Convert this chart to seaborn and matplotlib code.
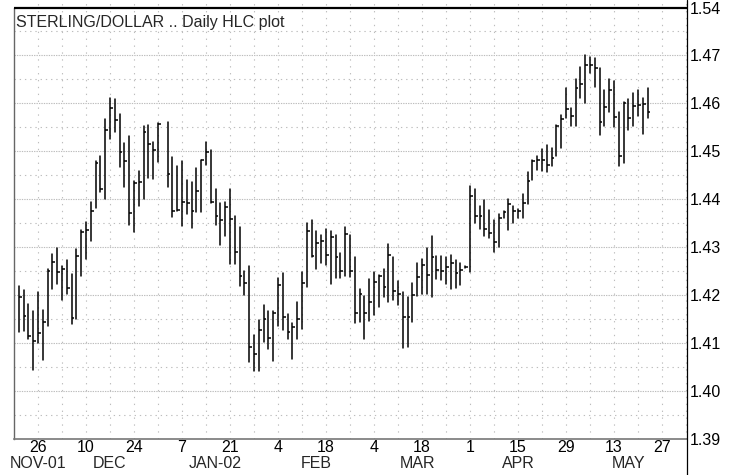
import numpy as np
import pandas as pd
import matplotlib
matplotlib.use('Agg')
import matplotlib.pyplot as plt
import matplotlib.transforms as mtransforms
from matplotlib.lines import Line2D
from matplotlib.ticker import FixedLocator, MultipleLocator
import seaborn as sns

# daily bars, business days 2001-11-20 .. 2002-05-22 (NaN = no quote)
START = '2001-11-20'
END = '2002-05-22'

HIGH = [1.4218, 1.4210, 1.4181, 1.4167, 1.4206, 1.4168, 1.4254, 1.4285, 1.4297, 1.4261,
        1.4272, 1.4243, 1.4296, 1.4335, 1.4353, 1.4393, 1.4479, 1.4490, 1.4567, 1.4610,
        1.4608, 1.4578, 1.4517, 1.4531, 1.4438, 1.4458, 1.4553, 1.4554, 1.4519, 1.4558,
        np.nan, 1.4560, 1.4488, 1.4469, 1.4479, 1.4439, 1.4435, 1.4465, 1.4482, 1.4519,
        1.4503, 1.4421, 1.4392, 1.4393, 1.4421, 1.4364, 1.4342, 1.4251, 1.4261, 1.4116,
        1.4147, 1.4179, 1.4166, 1.4167, 1.4235, 1.4245, 1.4160, 1.4142, 1.4185, 1.4248,
        1.4349, 1.4356, 1.4334, 1.4324, 1.4338, 1.4334, 1.4326, 1.4288, 1.4342, 1.4326,
        1.4279, 1.4213, 1.4198, 1.4233, 1.4248, 1.4242, 1.4255, 1.4306, 1.4279, 1.4229,
        1.4206, 1.4195, 1.4224, 1.4267, 1.4274, 1.4298, 1.4323, 1.4281, 1.4281, 1.4279,
        1.4283, 1.4273, 1.4266, 1.4260, 1.4428, 1.4421, 1.4385, 1.4397, 1.4378, 1.4357,
        1.4369, 1.4375, 1.4401, 1.4386, 1.4379, 1.4410, 1.4457, 1.4482, 1.4490, 1.4504,
        1.4513, 1.4506, 1.4554, 1.4576, 1.4631, 1.4589, 1.4651, 1.4676, 1.4699, 1.4696,
        1.4693, 1.4672, 1.4628, 1.4651, 1.4646, 1.4581, 1.4603, 1.4608, 1.4621, 1.4628,
        1.4610, 1.4631]

LOW = [1.4122, 1.4124, 1.4108, 1.4044, 1.4101, 1.4065, 1.4136, 1.4213, 1.4222, 1.4190,
       1.4203, 1.4140, 1.4150, 1.4240, 1.4275, 1.4313, 1.4381, 1.4414, 1.4399, 1.4525,
       1.4540, 1.4467, 1.4425, 1.4346, 1.4332, 1.4385, 1.4399, 1.4443, 1.4442, 1.4478,
       np.nan, 1.4426, 1.4363, 1.4375, 1.4344, 1.4368, 1.4339, 1.4372, 1.4372, 1.4471,
       1.4392, 1.4346, 1.4304, 1.4322, 1.4265, 1.4265, 1.4219, 1.4201, 1.4061, 1.4042,
       1.4042, 1.4102, 1.4088, 1.4062, 1.4135, 1.4127, 1.4108, 1.4066, 1.4109, 1.4130,
       1.4216, 1.4279, 1.4254, 1.4266, 1.4263, 1.4223, 1.4235, 1.4235, 1.4240, 1.4238,
       1.4141, 1.4144, 1.4109, 1.4146, 1.4159, 1.4174, 1.4196, 1.4185, 1.4190, 1.4180,
       1.4090, 1.4091, 1.4143, 1.4198, 1.4203, 1.4203, 1.4196, 1.4234, 1.4231, 1.4222,
       1.4213, 1.4215, 1.4220, 1.4256, 1.4247, 1.4351, 1.4338, 1.4322, 1.4319, 1.4289,
       1.4299, 1.4360, 1.4336, 1.4351, 1.4360, 1.4360, 1.4390, 1.4440, 1.4461, 1.4458,
       1.4457, 1.4468, 1.4489, 1.4506, 1.4568, 1.4553, 1.4553, 1.4611, 1.4600, 1.4663,
       1.4633, 1.4533, 1.4553, 1.4582, 1.4551, 1.4468, 1.4475, 1.4543, 1.4553, 1.4572,
       1.4536, 1.4569]

CLOSE = [1.4195, 1.4156, 1.4114, 1.4104, 1.4120, 1.4143, 1.4249, 1.4269, 1.4247, 1.4254,
         1.4214, 1.4153, 1.4281, 1.4332, 1.4336, 1.4376, 1.4474, 1.4421, 1.4544, 1.4589,
         1.4565, 1.4497, 1.4479, 1.4371, 1.4433, 1.4435, 1.4539, 1.4515, 1.4503, 1.4556,
         np.nan, 1.4453, 1.4376, 1.4378, 1.4393, 1.4392, 1.4375, 1.4417, 1.4481, 1.4497,
         1.4393, 1.4364, 1.4356, 1.4383, 1.4358, 1.4289, 1.4239, 1.4225, 1.4091, 1.4078,
         1.4127, 1.4149, 1.4110, 1.4163, 1.4220, 1.4154, 1.4123, 1.4134, 1.4149, 1.4224,
         1.4334, 1.4281, 1.4308, 1.4313, 1.4283, 1.4320, 1.4279, 1.4249, 1.4328, 1.4249,
         1.4162, 1.4203, 1.4163, 1.4185, 1.4227, 1.4240, 1.4216, 1.4283, 1.4209, 1.4202,
         1.4154, 1.4154, 1.4199, 1.4238, 1.4262, 1.4241, 1.4279, 1.4253, 1.4251, 1.4258,
         1.4267, 1.4245, 1.4252, 1.4258, 1.4406, 1.4365, 1.4364, 1.4338, 1.4329, 1.4311,
         1.4360, 1.4372, 1.4389, 1.4375, 1.4376, 1.4392, 1.4438, 1.4479, 1.4482, 1.4482,
         1.4471, 1.4485, 1.4553, 1.4567, 1.4588, 1.4572, 1.4631, 1.4639, 1.4679, 1.4679,
         1.4672, 1.4561, 1.4592, 1.4628, 1.4571, 1.4490, 1.4600, 1.4568, 1.4593, 1.4596,
         1.4597, 1.4582]

TICK_DATES = ['2001-11-26', '2001-12-10', '2001-12-24', '2002-01-07', '2002-01-21',
              '2002-02-04', '2002-02-18', '2002-03-04', '2002-03-18', '2002-04-01',
              '2002-04-15', '2002-04-29', '2002-05-13', '2002-05-27']
TICK_LABELS = ['26', '10', '24', '7', '21', '4', '18', '4', '18', '1', '15', '29', '13', '27']
MONTH_DATES = ['2001-11-26', '2001-12-17', '2002-01-16', '2002-02-14',
               '2002-03-15', '2002-04-15', '2002-05-16']
MONTH_LABELS = ['NOV-01', 'DEC', 'JAN-02', 'FEB', 'MAR', 'APR', 'MAY']
Y_TICKS = [1.39, 1.40, 1.41, 1.42, 1.43, 1.44, 1.45, 1.46, 1.47]
Y_LABELS = ['1.39', '1.40', '1.41', '1.42', '1.43', '1.44', '1.45', '1.46', '1.47']
TOP_LEVEL = 1.4798
TOP_LABEL = '1.54'
TITLE = 'STERLING/DOLLAR .. Daily HLC plot'

sns.set_theme(style='white')
plt.rcParams['font.family'] = ['Liberation Sans', 'DejaVu Sans']

# x axis = trading-day index, Monday 2001-11-19 is 0
axis_days = pd.bdate_range('2001-11-19', '2002-06-14')
pos = {d: i for i, d in enumerate(axis_days)}

df = pd.DataFrame({'date': pd.bdate_range(START, END),
                   'high': HIGH, 'low': LOW, 'close': CLOSE})
df['x'] = df['date'].map(pos)
df = df.dropna()
long = df.melt(id_vars=['x'], value_vars=['low', 'high'], value_name='price')

fig = plt.figure(figsize=(7.44, 4.75), dpi=100)
ax = fig.add_axes([14 / 744, 36 / 475, 673 / 744, 439 / 475])

# high-low ranges, one line per day
sns.lineplot(data=long, x='x', y='price', units='x', estimator=None, sort=False,
             color='black', lw=1.1, ax=ax, legend=False)
# close ticks on the right
ax.hlines(df['close'], df['x'], df['x'] + 0.6, color='black', lw=1.1)

ax.set_xlim(0, 673 / 4.8)
ax.set_ylim(1.39, 1.39 + 439 / 4800)

# grid
grid_c = '#bdbdbd'
for y in Y_TICKS[1:]:
    ax.axhline(y, color=grid_c, lw=0.8, ls=(0, (1.2, 1.0)), zorder=0)
for y in np.arange(1.395, 1.48, 0.01):
    ax.axhline(y, color=grid_c, lw=0.8, ls=(0, (1.2, 3.5)), zorder=0)
for x in range(5, 141, 5):
    ax.axvline(x, color=grid_c, lw=0.8, ls=(0, (1.2, 5.0)), zorder=0)

ax.axhline(TOP_LEVEL, color='black', lw=1.6, zorder=3)

ax.yaxis.tick_right()
ax.set_yticks(Y_TICKS + [TOP_LEVEL])
ax.set_yticklabels(Y_LABELS + [TOP_LABEL])
ax.set_xticks([pos[pd.Timestamp(d)] for d in TICK_DATES])
ax.set_xticklabels(TICK_LABELS)
ax.tick_params(axis='both', length=0, labelsize=11.5, colors='black')
ax.tick_params(axis='y', pad=2)
ax.tick_params(axis='x', pad=1)
ax.set_xlabel('')
ax.set_ylabel('')

for s in ['top', 'right']:
    ax.spines[s].set_visible(False)
ax.spines['left'].set_color('#666666')
ax.spines['left'].set_linewidth(1.0)
ax.spines['left'].set_bounds(1.39, TOP_LEVEL)
ax.spines['bottom'].set_color('#777777')
ax.spines['bottom'].set_linewidth(1.2)

fig.add_artist(Line2D([687 / 744, 687 / 744], [0, 1], transform=fig.transFigure,
                      color='black', lw=0.9))

trans = mtransforms.blended_transform_factory(ax.transData, fig.transFigure)
for d, lab in zip(MONTH_DATES, MONTH_LABELS):
    ax.text(pos[pd.Timestamp(d)], 1 - 463 / 475, lab, transform=trans,
            ha='center', va='center', fontsize=11.5)

fig.text(16 / 744, 1 - 22 / 475, TITLE, ha='left', va='center', fontsize=11.5)

fig.savefig('out.png', dpi=100)
